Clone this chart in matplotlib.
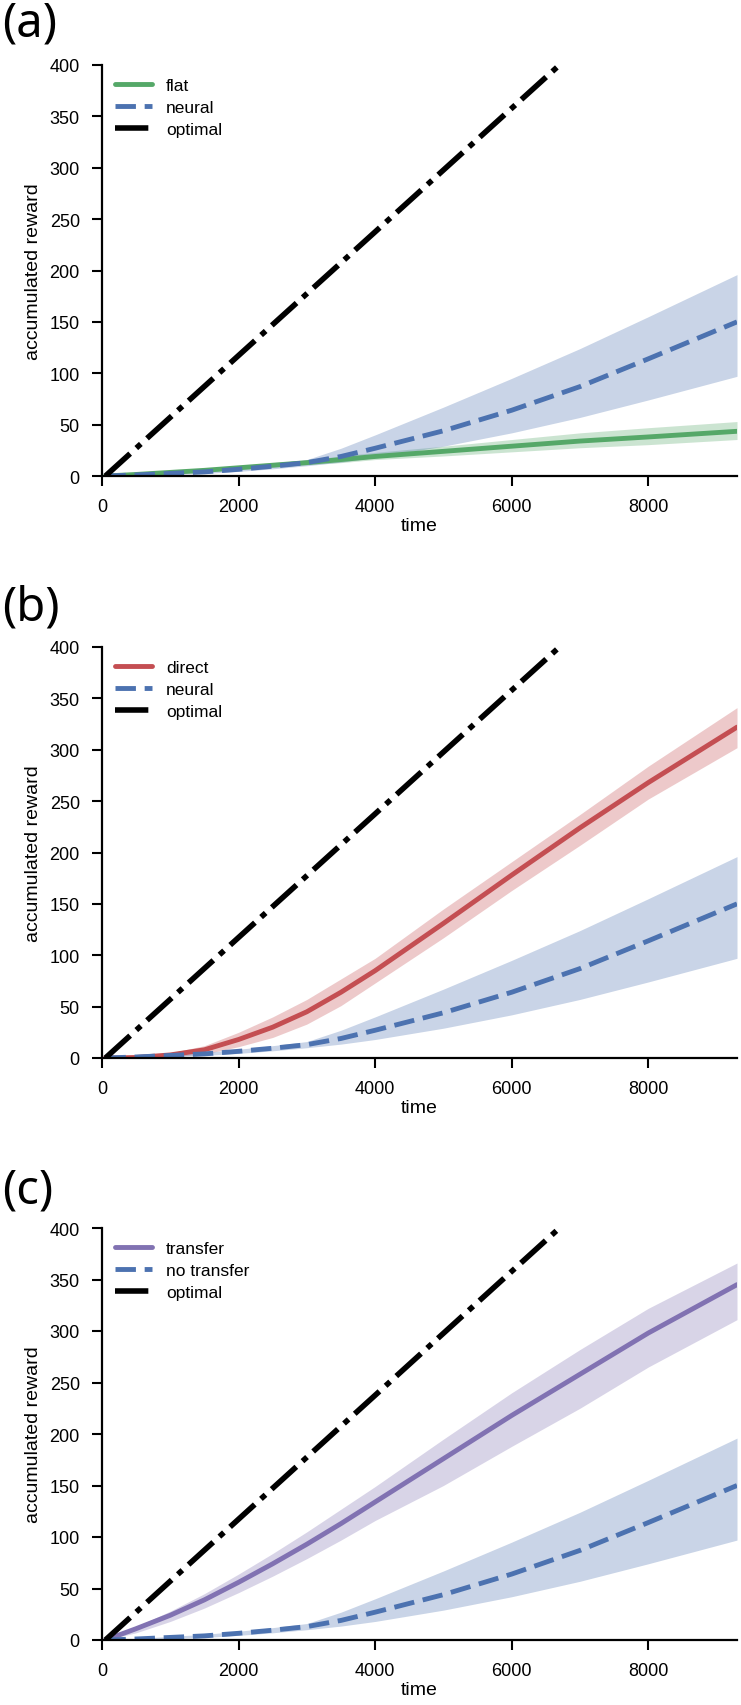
import matplotlib
matplotlib.use('Agg')
import matplotlib.pyplot as plt
import numpy as np

# --- DATA ---

time = [50, 500, 1000, 1500, 2000, 2500, 3000, 3500, 4000, 5000, 6000, 7000, 8000, 9300]

optimal_time = [50, 6700]
optimal_reward = [0, 400]

neural_mean = [0, 1, 2.5, 4, 6.5, 9.5, 13, 19, 27, 44, 64, 87, 114, 150]
neural_upper = [0, 1.5, 3.5, 5.5, 8.5, 12, 16, 27, 40, 67, 95, 124, 155, 196]
neural_lower = [0, 0.5, 1.5, 2.5, 4.5, 7, 10, 13.5, 18, 29, 42, 57, 74, 97]

flat_mean = [0, 1.5, 3.5, 5.5, 8, 10.5, 13, 16, 19, 24, 29, 34, 38, 43.5]
flat_upper = [0, 2, 4.5, 7, 10, 13, 15.5, 19.5, 23, 29, 35.5, 42, 47, 53]
flat_lower = [0, 1, 2.5, 4, 6.5, 8.5, 11, 13, 16, 19.5, 23.5, 27.5, 30.5, 35.5]

direct_mean = [0, 0.5, 3, 8, 18, 30, 45, 64, 85, 131, 178, 224, 268, 322]
direct_upper = [0, 1.5, 5, 12, 25, 40, 57, 77, 97, 145, 191, 237, 284, 341]
direct_lower = [0, 0, 1, 4, 11, 20, 33, 51, 73, 117, 163, 207, 252, 302]

transfer_mean = [0, 11, 24, 39, 56, 74, 93, 113, 134, 176, 218, 258, 298, 345]
transfer_upper = [0, 13, 28, 45, 64, 84, 105, 127, 149, 195, 240, 282, 322, 366]
transfer_lower = [0, 7, 18, 31, 46, 62, 79, 97, 116, 150, 188, 225, 265, 311]

panel_labels = ['(a)', '(b)', '(c)']
xticks = [0, 2000, 4000, 6000, 8000]
yticks = [0, 50, 100, 150, 200, 250, 300, 350, 400]

# seaborn "deep" colours
GREEN = '#55A868'
BLUE = '#4C72B0'
RED = '#C44E52'
PURPLE = '#8172B2'

panels = [
    [('flat', flat_mean, flat_upper, flat_lower, GREEN),
     ('neural', neural_mean, neural_upper, neural_lower, BLUE)],
    [('direct', direct_mean, direct_upper, direct_lower, RED),
     ('neural', neural_mean, neural_upper, neural_lower, BLUE)],
    [('transfer', transfer_mean, transfer_upper, transfer_lower, PURPLE),
     ('no transfer', neural_mean, neural_upper, neural_lower, BLUE)],
]

# --- STYLE ---

plt.rcParams['font.family'] = ['Liberation Sans', 'DejaVu Sans']
plt.rcParams['lines.solid_capstyle'] = 'round'

W, H = 741, 1706
fig = plt.figure(figsize=(W / 100, H / 100), dpi=100)

tops = [66, 648, 1229]
bottoms = [477, 1059, 1641]
label_baselines = [36, 620, 1204]
ax_left, ax_right = 102, 737

for i, series in enumerate(panels):
    ax = fig.add_axes([ax_left / W, 1 - bottoms[i] / H,
                       (ax_right - ax_left) / W, (bottoms[i] - tops[i]) / H])

    # bands first so that the lines sit on top
    for name, mean, up, lo, col in series:
        ax.fill_between(time, lo, up, color=col, alpha=0.3, linewidth=0)

    (name, mean, up, lo, col) = series[0]
    ax.plot(time, mean, color=col, lw=3.5, label=name)
    (name, mean, up, lo, col) = series[1]
    ax.plot(time, mean, color=col, lw=3.5, linestyle=(0, (4.2, 1.8)), label=name)
    ax.plot(optimal_time, optimal_reward, color='black', lw=4,
            linestyle=(0, (6, 1.5, 1.1, 1.5)), label='optimal')

    ax.set_xlim(0, 9300)
    ax.set_ylim(0, 400)
    ax.set_xticks(xticks)
    ax.set_yticks(yticks)
    for s in ['top', 'right']:
        ax.spines[s].set_visible(False)
    for s in ['left', 'bottom']:
        ax.spines[s].set_linewidth(1.6)
    ax.tick_params(direction='out', length=7, width=1.5, pad=9, labelsize=13)

    ax.set_xlabel('time', fontsize=14)
    ax.set_ylabel('accumulated reward', fontsize=14)
    ax.xaxis.set_label_coords(0.5, -0.1)
    ax.yaxis.set_label_coords(-0.094, 0.5)

    ax.legend(loc='upper left', frameon=False, fontsize=12.5, handlelength=2.15,
              handletextpad=0.8, labelspacing=0.4, borderaxespad=0.35)

    fig.text(2 / W, 1 - label_baselines[i] / H, panel_labels[i],
             family=['Noto Sans', 'DejaVu Sans'], fontsize=34,
             va='baseline', ha='left')

fig.savefig('out.png', dpi=100)
